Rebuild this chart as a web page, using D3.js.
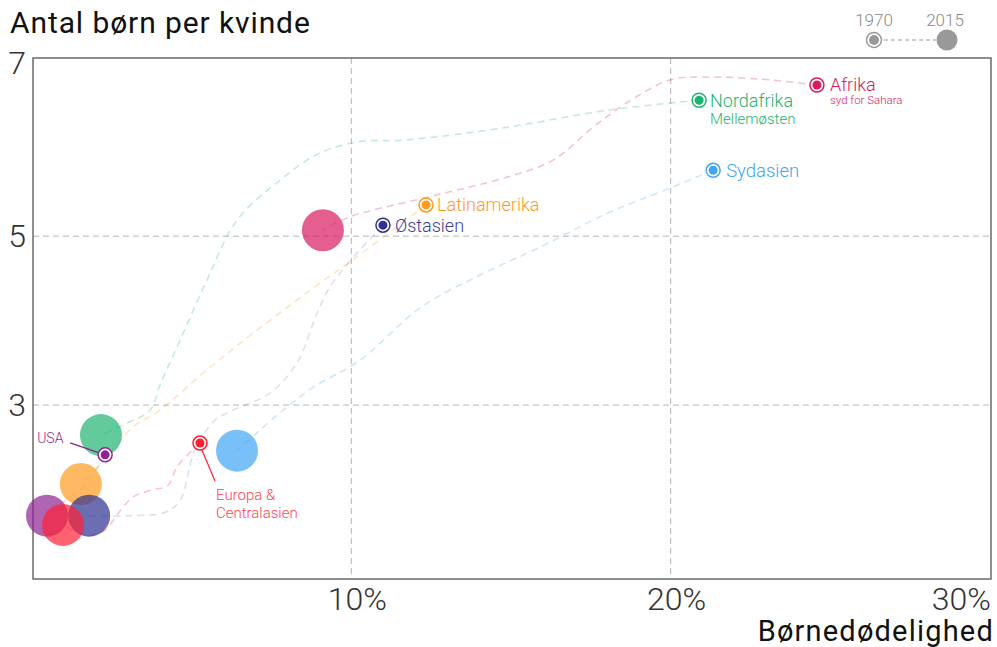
<!DOCTYPE html>
<html>
<head>
<meta charset="utf-8">
<script src="https://cdn.jsdelivr.net/npm/d3@7"></script>
<style>
	body { margin: 0; background: #fff; }
	text { font-family: Roboto, "Noto Sans", sans-serif; }
</style>
</head>
<body>
<div id="chart-area"></div>
<script>

// trajectories 1970 -> 2015, [child mortality %, births per woman]
let afrikaPoints = [[24.58, 6.79], [22.80, 6.86], [21.14, 6.885], [19.98, 6.85], [18.63, 6.58], [17.57, 6.29], [16.32, 5.90], [14.88, 5.70], [12.37, 5.46], [9.96, 5.23], [9.11, 5.07]];
let nordafrikaPoints = [[20.89, 6.61], [18.01, 6.49], [14.88, 6.29], [11.74, 6.14], [10.27, 6.12], [9.02, 5.985], [7.77, 5.665], [6.42, 5.19], [5.48, 4.48], [4.64, 3.77], [4.01, 3.24], [3.70, 2.94], [3.01, 2.79], [2.16, 2.645]];
let sydasienPoints = [[21.33, 5.78], [19.98, 5.57], [18.01, 5.27], [15.91, 4.87], [14.03, 4.54], [12.15, 4.15], [10.27, 3.53], [8.80, 3.21], [7.77, 2.91], [6.98, 2.65], [6.42, 2.46]];
let latinamerikaPoints = [[12.34, 5.37], [11.21, 5.05], [10.05, 4.72], [9.02, 4.445], [6.92, 3.85], [5.36, 3.38], [4.01, 2.94], [3.16, 2.74], [2.35, 2.385], [1.53, 2.065]];
let ostasienPoints = [[10.99, 5.13], [10.18, 4.80], [9.33, 4.40], [8.93, 4.09], [8.30, 3.50], [7.45, 3.14], [6.30, 2.94], [5.73, 2.82], [5.10, 2.47], [4.64, 1.875], [4.17, 1.73], [3.07, 1.69], [1.79, 1.69]];
let usaPoints = [[2.29, 2.41], [1.66, 2.05], [0.88, 1.82], [0.47, 1.69]];
let europaPoints = [[5.26, 2.55], [4.54, 2.27], [4.26, 2.05], [3.70, 1.99], [3.16, 1.91], [2.66, 1.70], [2.29, 1.52], [1.66, 1.46], [0.97, 1.58]];

let regionNames = ["Afrika", "Nordafrika", "Sydasien", "Latinamerika", "Østasien", "USA", "Europa &"];
let regionSubNames = ["syd for Sahara", "Mellemøsten", "", "", "", "", "Centralasien"];
let regionColors = ["#d81b60", "#1fb371", "#42a5f5", "#ff9a1f", "#2e3192", "#8e2491", "#ff1f35"];

let xTicks = [10, 20, 30];
let yTicks = [3, 5, 7];
let legendYears = ["1970", "2015"];

class FertilityChart {

	constructor(parentElement) {
		this.parentElement = parentElement;
		this.displayData = [];
		this.prepareData();
	}

	prepareData() {
		let vis = this;
		let allPoints = [afrikaPoints, nordafrikaPoints, sydasienPoints, latinamerikaPoints, ostasienPoints, usaPoints, europaPoints];

		for (let i = 0; i < regionNames.length; i++) {
			vis.displayData.push({
				name: regionNames[i],
				sub: regionSubNames[i],
				color: regionColors[i],
				points: allPoints[i],
				start: allPoints[i][0],
				end: allPoints[i][allPoints[i].length - 1]
			});
		}
		vis.initVis();
	}

	initVis() {
		let vis = this;

		vis.width = 997;
		vis.height = 647;

		vis.svg = d3.select("#" + vis.parentElement).append("svg")
			.attr("width", vis.width)
			.attr("height", vis.height);

		vis.x = d3.scaleLinear()
			.domain([0, 30])
			.range([32, 990]);

		vis.y = d3.scaleLinear()
			.domain([0.94, 7.11])
			.range([579, 58]);

		// grid
		vis.svg.selectAll(".grid-x")
			.data(xTicks.filter(d => d < 30))
			.enter().append("line")
			.attr("x1", d => vis.x(d)).attr("x2", d => vis.x(d))
			.attr("y1", 58).attr("y2", 579)
			.attr("stroke", "#b5b5b5")
			.attr("stroke-dasharray", "6,4");

		vis.svg.selectAll(".grid-y")
			.data(yTicks.filter(d => d < 7))
			.enter().append("line")
			.attr("x1", 33).attr("x2", 991)
			.attr("y1", d => vis.y(d)).attr("y2", d => vis.y(d))
			.attr("stroke", "#b5b5b5")
			.attr("stroke-dasharray", "6,4");

		// frame
		vis.svg.append("rect")
			.attr("x", 33).attr("y", 58)
			.attr("width", 958).attr("height", 521)
			.attr("fill", "none")
			.attr("stroke", "#6a6a6a")
			.attr("stroke-width", 1.5);

		// tick labels
		vis.svg.selectAll(".x-label")
			.data(xTicks)
			.enter().append("text")
			.attr("x", d => d === 30 ? vis.x(d) + 1 : vis.x(d) + 6)
			.attr("y", 610)
			.attr("text-anchor", d => d === 30 ? "end" : "middle")
			.attr("font-size", 32)
			.attr("font-weight", 300)
			.attr("fill", "#333")
			.text(d => d + "%");

		vis.svg.selectAll(".y-label")
			.data(yTicks)
			.enter().append("text")
			.attr("x", 26)
			.attr("y", d => d === 7 ? vis.y(d) + 7 : vis.y(d) + 11)
			.attr("text-anchor", "end")
			.attr("font-size", 32)
			.attr("font-weight", 300)
			.attr("fill", "#333")
			.text(d => d);

		vis.svg.append("text")
			.attr("x", 10).attr("y", 33)
			.attr("font-size", 30)
			.attr("letter-spacing", 0.9)
			.attr("fill", "#111")
			.text("Antal børn per kvinde");

		vis.svg.append("text")
			.attr("x", 994).attr("y", 641)
			.attr("text-anchor", "end")
			.attr("font-size", 29)
			.attr("letter-spacing", 1.2)
			.attr("fill", "#111")
			.text("Børnedødelighed");

		// trajectories
		vis.line = d3.line()
			.x(d => vis.x(d[0]))
			.y(d => vis.y(d[1]))
			.curve(d3.curveCatmullRom.alpha(0.5));

		vis.svg.selectAll(".trail")
			.data(vis.displayData)
			.enter().append("path")
			.attr("d", d => vis.line(d.points))
			.attr("fill", "none")
			.attr("stroke", d => d.color)
			.attr("stroke-opacity", d => d.name === "Østasien" || d.name === "USA" ? 0.16 : 0.28)
			.attr("stroke-width", 1.5)
			.attr("stroke-dasharray", "7,5");

		// 2015 bubbles
		vis.svg.selectAll(".bubble")
			.data(vis.displayData)
			.enter().append("circle")
			.attr("cx", d => vis.x(d.end[0]))
			.attr("cy", d => vis.y(d.end[1]))
			.attr("r", 21)
			.attr("fill", d => d.color)
			.attr("fill-opacity", 0.7);

		// 1970 markers
		let start = vis.svg.selectAll(".start")
			.data(vis.displayData)
			.enter().append("g")
			.attr("transform", d => "translate(" + vis.x(d.start[0]) + "," + vis.y(d.start[1]) + ")");
		start.append("circle")
			.attr("r", 7)
			.attr("fill", "#fff")
			.attr("stroke", d => d.color)
			.attr("stroke-width", 1.5);
		start.append("circle")
			.attr("r", 4.5)
			.attr("fill", d => d.color);

		// labels: dx, dy, sub-line offset, font size
		let labelPos = {
			"Afrika": [13, 6, 13, 18],
			"Nordafrika": [11, 7, 17, 18],
			"Sydasien": [13, 7, 0, 18.5],
			"Latinamerika": [11, 6, 0, 18],
			"Østasien": [12, 7, 0, 18],
			"USA": [-68, -12, 0, 14],
			"Europa &": [16, 57, 18, 15]
		};

		vis.displayData.forEach(d => {
			let p = labelPos[d.name];
			let px = vis.x(d.start[0]) + p[0];
			let py = vis.y(d.start[1]) + p[1];
			let subSize = d.name === "Afrika" ? 11.5 : 15;
			let g = vis.svg.append("g").attr("font-weight", 300);

			g.append("text")
				.attr("x", px).attr("y", py)
				.attr("font-size", p[3])
				.attr("fill", d.name === "Europa &" ? "#ff4455" : d.name === "Østasien" ? "#3b3f9a" : d.color)
				.text(d.name);

			if (d.sub) {
				g.append("text")
					.attr("x", px).attr("y", py + p[2])
					.attr("font-size", subSize)
					.attr("fill", d.name === "Europa &" ? "#ff4455" : d.color)
					.text(d.sub);
			}
		});

		// leader lines
		vis.svg.append("line")
			.attr("x1", vis.x(usaPoints[0][0]) - 6).attr("y1", vis.y(usaPoints[0][1]) - 2)
			.attr("x2", vis.x(usaPoints[0][0]) - 35).attr("y2", vis.y(usaPoints[0][1]) - 12)
			.attr("stroke", regionColors[5]).attr("stroke-width", 1.2);

		vis.svg.append("line")
			.attr("x1", vis.x(europaPoints[0][0]) + 2).attr("y1", vis.y(europaPoints[0][1]) + 7)
			.attr("x2", vis.x(europaPoints[0][0]) + 15).attr("y2", vis.y(europaPoints[0][1]) + 38)
			.attr("stroke", regionColors[6]).attr("stroke-width", 1.2);

		// legend
		let lg = vis.svg.append("g").attr("class", "legend");
		lg.selectAll("text")
			.data(legendYears)
			.enter().append("text")
			.attr("x", (d, i) => i === 0 ? 874 : 945)
			.attr("y", 26)
			.attr("text-anchor", "middle")
			.attr("font-size", 17)
			.attr("font-weight", 300)
			.attr("fill", "#8a8a8a")
			.text(d => d);
		lg.append("line")
			.attr("x1", 884).attr("x2", 936)
			.attr("y1", 40).attr("y2", 40)
			.attr("stroke", "#999")
			.attr("stroke-width", 1.2)
			.attr("stroke-dasharray", "4,3");
		lg.append("circle")
			.attr("cx", 874).attr("cy", 40).attr("r", 7.5)
			.attr("fill", "#fff").attr("stroke", "#999").attr("stroke-width", 1.5);
		lg.append("circle")
			.attr("cx", 874).attr("cy", 40).attr("r", 5)
			.attr("fill", "#999");
		lg.append("circle")
			.attr("cx", 947).attr("cy", 40).attr("r", 10.5)
			.attr("fill", "#999");
	}
}

new FertilityChart("chart-area");
</script>
</body>
</html>
